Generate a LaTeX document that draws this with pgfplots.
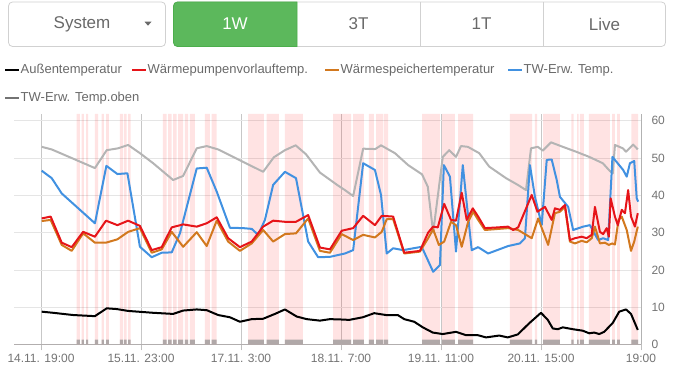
\documentclass[border=0pt]{standalone}
\usepackage{fontspec}
\setmainfont{Liberation Sans}
\usepackage{pgfplots}
\usepackage{pgfplotstable}
\pgfplotsset{compat=1.18}
\definecolor{cRed}{RGB}{230,20,25}
\definecolor{cOrange}{RGB}{210,120,30}
\definecolor{cBlue}{RGB}{65,145,225}
\definecolor{cGray}{RGB}{180,180,180}
\definecolor{cGreen}{RGB}{92,184,92}
\definecolor{cGreenB}{RGB}{76,174,76}
\definecolor{cBar}{RGB}{176,168,168}
\definecolor{cTxt}{RGB}{105,105,105}

\pgfplotstableread{
t on
-7.6 0
10.0 1
10.9 0
11.4 1
12.0 0
12.6 1
13.2 0
15.1 1
16.0 0
17.0 1
17.6 0
18.2 1
19.0 0
22.1 1
22.9 0
23.2 1
24.0 0
24.4 1
25.1 0
34.1 1
35.2 0
35.6 1
36.6 0
37.0 1
38.0 0
38.4 1
39.8 0
40.3 1
41.2 0
41.7 1
43.1 0
45.9 1
47.3 0
47.8 1
49.2 0
58.0 1
62.4 0
63.2 1
66.6 0
68.3 1
73.3 0
81.8 1
86.8 0
87.4 1
90.4 0
91.8 1
93.2 0
93.8 1
95.8 0
96.0 1
97.2 0
106.7 1
111.7 0
112.3 1
115.9 0
116.8 1
121.0 0
131.3 1
137.5 0
138.3 1
138.9 0
140.6 1
145.3 0
148.5 1
149.1 0
150.1 1
150.5 0
150.9 1
152.0 0
153.4 1
159.3 0
159.9 1
160.7 0
161.3 1
162.1 0
165.3 1
167.2 0
168 0
}\tPump

\pgfplotstableread{
t v
0.2 8.8
3.4 8.5
9.0 7.9
15.1 7.6
18.4 9.7
21.2 9.5
24.4 9.0
31.4 8.5
37.0 8.2
39.8 9.1
43.6 9.4
46.4 9.2
49.6 7.9
52.9 7.3
55.7 6.1
59.0 6.8
62.2 6.9
65.5 8.2
68.3 9.4
71.6 7.5
74.4 6.8
78.1 6.4
80.9 6.8
84.1 6.7
86.3 6.6
90.1 7.3
93.3 8.4
96.6 7.9
99.9 7.9
101.7 6.8
104.5 6.1
106.9 4.6
109.7 3.2
112.5 2.8
116.2 3.4
119.0 2.5
122.3 2.5
124.6 1.9
128.3 2.4
130.7 1.9
133.5 2.7
136.7 5.7
140.0 8.5
141.9 6.6
143.3 4.3
144.7 4.1
146.1 4.6
148.9 4.1
151.7 3.7
153.5 3.0
154.9 3.2
156.3 2.8
157.7 3.4
160.1 5.8
161.9 8.8
163.8 9.4
165.2 8.2
167.1 3.9
}\tAussen

\pgfplotstableread{
t v
0.2 53.0
3.0 52.3
15.1 47.3
18.4 52.1
21.6 52.6
24.4 53.5
27.7 51.3
31.4 48.6
37.0 44.1
39.8 45.2
43.6 52.6
46.4 53.2
49.6 52.3
53.8 50.3
62.2 46.3
65.2 50.2
68.3 52.1
71.3 53.4
74.2 51.0
78.1 46.1
82.9 42.8
85.1 41.4
87.4 39.8
90.2 52.5
93.6 52.4
95.2 53.4
99.1 51.3
102.8 48.1
106.7 45.6
108.3 42.3
109.8 30.0
112.5 50.3
114.3 52.1
116.2 50.3
117.6 53.2
119.5 53.0
122.7 51.3
125.5 47.7
130.2 44.6
133.5 42.8
135.8 41.4
137.2 52.6
139.1 53.0
140.5 52.0
142.8 54.2
146.1 53.0
149.8 51.7
153.5 50.3
157.3 48.6
159.3 46.5
160.1 45.9
160.7 53.5
162.9 52.6
163.8 51.7
165.8 53.6
167.1 52.3
}\tGray

\pgfplotstableread{
t v
0.2 46.6
3.0 44.6
5.8 40.5
15.1 32.5
18.3 47.9
21.4 45.7
24.2 45.9
27.7 26.2
31.0 23.4
33.8 24.6
36.6 24.7
38.9 29.8
43.6 47.2
46.4 47.4
49.2 41.0
52.9 31.3
56.6 31.2
59.0 31.0
60.8 29.4
62.7 33.4
65.0 42.8
68.3 46.3
71.4 44.6
74.8 27.6
77.6 23.4
80.9 23.5
85.1 24.4
87.4 25.3
90.2 48.6
93.5 46.8
95.2 40.1
96.8 24.4
98.6 25.8
101.4 25.3
106.6 26.2
109.8 19.5
111.7 21.3
112.8 48.1
114.5 45.0
116.2 24.9
118.1 48.1
119.2 37.9
120.6 25.3
122.4 26.1
125.2 24.4
130.8 26.4
134.1 27.1
135.5 28.5
136.9 48.1
138.3 39.6
140.2 32.0
141.6 49.5
143.0 49.6
144.4 44.1
145.3 39.6
147.6 36.9
149.0 30.7
151.8 31.6
153.7 32.0
156.0 28.0
157.4 28.5
158.8 28.0
160.0 50.3
163.0 46.8
164.0 45.0
164.9 48.6
166.1 49.2
166.8 39.2
167.2 38.3
}\tBlue

\pgfplotstableread{
t v
0.2 33.1
2.7 33.4
5.8 26.7
8.6 25.1
11.8 29.8
15.1 27.3
18.2 27.3
21.4 28.2
24.4 30.2
27.7 31.2
31.0 24.6
33.8 25.5
36.6 30.2
39.8 26.2
43.6 30.1
46.4 26.4
49.2 33.2
52.4 27.6
55.7 25.1
59.0 27.1
62.2 30.7
65.0 27.6
68.3 29.6
71.4 29.8
74.8 33.8
78.1 25.1
80.9 24.6
84.2 29.6
87.4 28.0
90.2 29.4
93.5 28.7
95.4 30.2
96.8 33.6
98.6 33.6
101.7 24.4
106.1 24.9
108.4 28.5
109.8 30.9
111.4 26.7
112.9 27.6
114.8 32.9
116.2 32.0
117.8 26.2
119.6 32.9
121.0 35.6
122.4 33.4
124.3 30.7
130.8 31.2
133.6 30.7
137.4 28.5
139.2 33.8
142.0 26.7
143.9 35.2
145.3 35.6
146.7 36.9
148.1 27.6
149.5 27.1
151.4 27.8
152.8 27.4
154.2 28.5
155.1 31.6
156.5 27.1
157.9 27.3
159.0 26.7
159.9 27.1
160.7 26.8
161.7 33.4
162.6 34.3
164.0 30.7
165.2 25.1
166.1 27.6
167.1 31.6
}\tOrange

\pgfplotstableread{
t v
0.2 33.8
2.7 34.3
5.8 27.3
8.6 26.1
11.8 30.2
15.1 28.9
18.2 33.2
21.4 32.0
24.4 33.2
27.7 31.8
31.0 25.3
33.8 26.1
36.6 31.4
39.8 32.2
43.6 31.6
46.4 32.5
49.2 34.1
52.4 28.5
55.7 26.1
59.0 27.6
62.2 31.6
65.0 33.2
68.3 32.9
71.4 32.9
74.8 34.7
78.1 26.0
80.9 25.5
84.2 30.5
87.4 31.2
90.2 34.5
93.5 32.0
95.4 34.5
98.6 34.3
101.7 24.6
106.1 25.1
108.4 30.0
109.8 31.6
111.1 31.4
112.9 37.7
114.8 33.4
116.2 33.2
117.8 40.7
119.2 33.4
120.9 36.5
122.4 34.3
124.3 31.2
128.0 31.4
130.8 31.6
132.2 30.7
133.6 31.4
137.4 40.1
139.0 35.6
141.1 36.9
143.0 33.4
143.9 36.5
145.3 36.1
146.7 37.4
148.1 28.0
149.5 28.5
151.4 28.9
152.8 28.5
154.2 29.4
155.1 36.9
156.5 30.2
157.4 29.6
158.4 31.2
159.0 28.9
159.5 39.2
160.7 34.3
161.5 32.0
162.6 36.1
163.5 35.2
164.4 41.4
165.2 34.3
166.3 31.6
167.1 35.2
}\tRed

\begin{document}
\begin{tikzpicture}[x=1pt,y=1pt]
\path[use as bounding box] (0,0) rectangle (676,374);
% --- buttons ---
\draw[rounded corners=4pt, draw=black!18, fill=white, line width=0.8pt] (8.5,372) rectangle (165.5,327.5);
\node[font=\fontsize{17}{20}\selectfont, text=cTxt] at (82,350) {System};
\fill[cTxt] (144.5,352.3) -- (151.5,352.3) -- (148,348.3) -- cycle;
\draw[rounded corners=4pt, draw=black!18, line width=0.8pt] (173.5,372) rectangle (665.5,327.5);
\draw[fill=cGreen, draw=cGreenB, line width=0.8pt] (297,327.5) -- (297,372) {[rounded corners=4pt] -- (173.5,372) -- (173.5,327.5)} -- cycle;
\draw[black!18, line width=0.8pt] (420,372) -- (420,327.5);
\draw[black!18, line width=0.8pt] (543,372) -- (543,327.5);
\node[font=\fontsize{17}{20}\selectfont, text=white] at (235,350) {1W};
\node[font=\fontsize{17}{20}\selectfont, text=cTxt] at (358.5,350) {3T};
\node[font=\fontsize{17}{20}\selectfont, text=cTxt] at (481.5,350) {1T};
\node[font=\fontsize{17}{20}\selectfont, text=cTxt] at (604.5,350) {Live};
% --- legend ---
\begin{scope}[every node/.style={anchor=west, inner sep=0pt, font=\fontsize{13}{15}\selectfont, text=cTxt}]
\draw[black, line width=2pt] (5,304) -- (19,304);
\node at (20.5,304) {Außentemperatur};
\draw[cRed, line width=2pt] (132,304) -- (146,304);
\node at (147.5,304) {Wärmepumpenvorlauftemp.};
\draw[cOrange, line width=2pt] (325,304) -- (339,304);
\node at (340.5,304) {Wärmespeichertemperatur};
\draw[cBlue, line width=2pt] (508,304) -- (522,304);
\node at (523.5,304) {TW-Erw. Temp.};
\draw[black!55, line width=2pt] (5,276) -- (19,276);
\node at (20.5,276) {TW-Erw. Temp.oben};
\end{scope}
% --- chart ---
\begin{axis}[
  at={(14pt,29.5pt)}, anchor=south west, scale only axis,
  width=627pt, height=230.5pt,
  xmin=-7.56, xmax=168, ymin=0, ymax=61.8,
  axis x line=bottom, axis y line=right,
  axis line style={-, draw=black!30, line width=0.8pt},
  xtick={0,28,56,84,112,140,168},
  xticklabels={14.11. 19:00,15.11. 23:00,17.11. 3:00,18.11. 7:00,19.11. 11:00,20.11. 15:00,19:00},
  ytick={0,10,...,60},
  xmajorgrids, ymajorgrids,
  x grid style={draw=black!22, line width=0.8pt},
  y grid style={draw=black!10, line width=0.8pt},
  tick align=outside, major tick length=6pt,
  xtick style={draw=black!25, line width=0.8pt},
  ytick style={draw=none},
  ticklabel style={font=\fontsize{12}{14}\selectfont, text=black!55},
  /pgf/number format/assume math mode=true,
  yticklabel style={anchor=west, xshift=1pt},
  every axis plot/.append style={mark=none, line join=round, line width=2pt},
]
\addplot[const plot, draw=none, fill=red, fill opacity=0.11, line width=0pt, forget plot] table[x=t, y expr=\thisrow{on}*61.8]{\tPump} \closedcycle;
\addplot[const plot, draw=none, fill=cBar, line width=0pt, forget plot] table[x=t, y expr=\thisrow{on}*1.3]{\tPump} \closedcycle;
\addplot[cGray] table[x=t,y=v]{\tGray};
\addplot[cBlue] table[x=t,y=v]{\tBlue};
\addplot[cOrange] table[x=t,y=v]{\tOrange};
\addplot[cRed] table[x=t,y=v]{\tRed};
\addplot[black] table[x=t,y=v]{\tAussen};
\end{axis}
\end{tikzpicture}
\end{document}
